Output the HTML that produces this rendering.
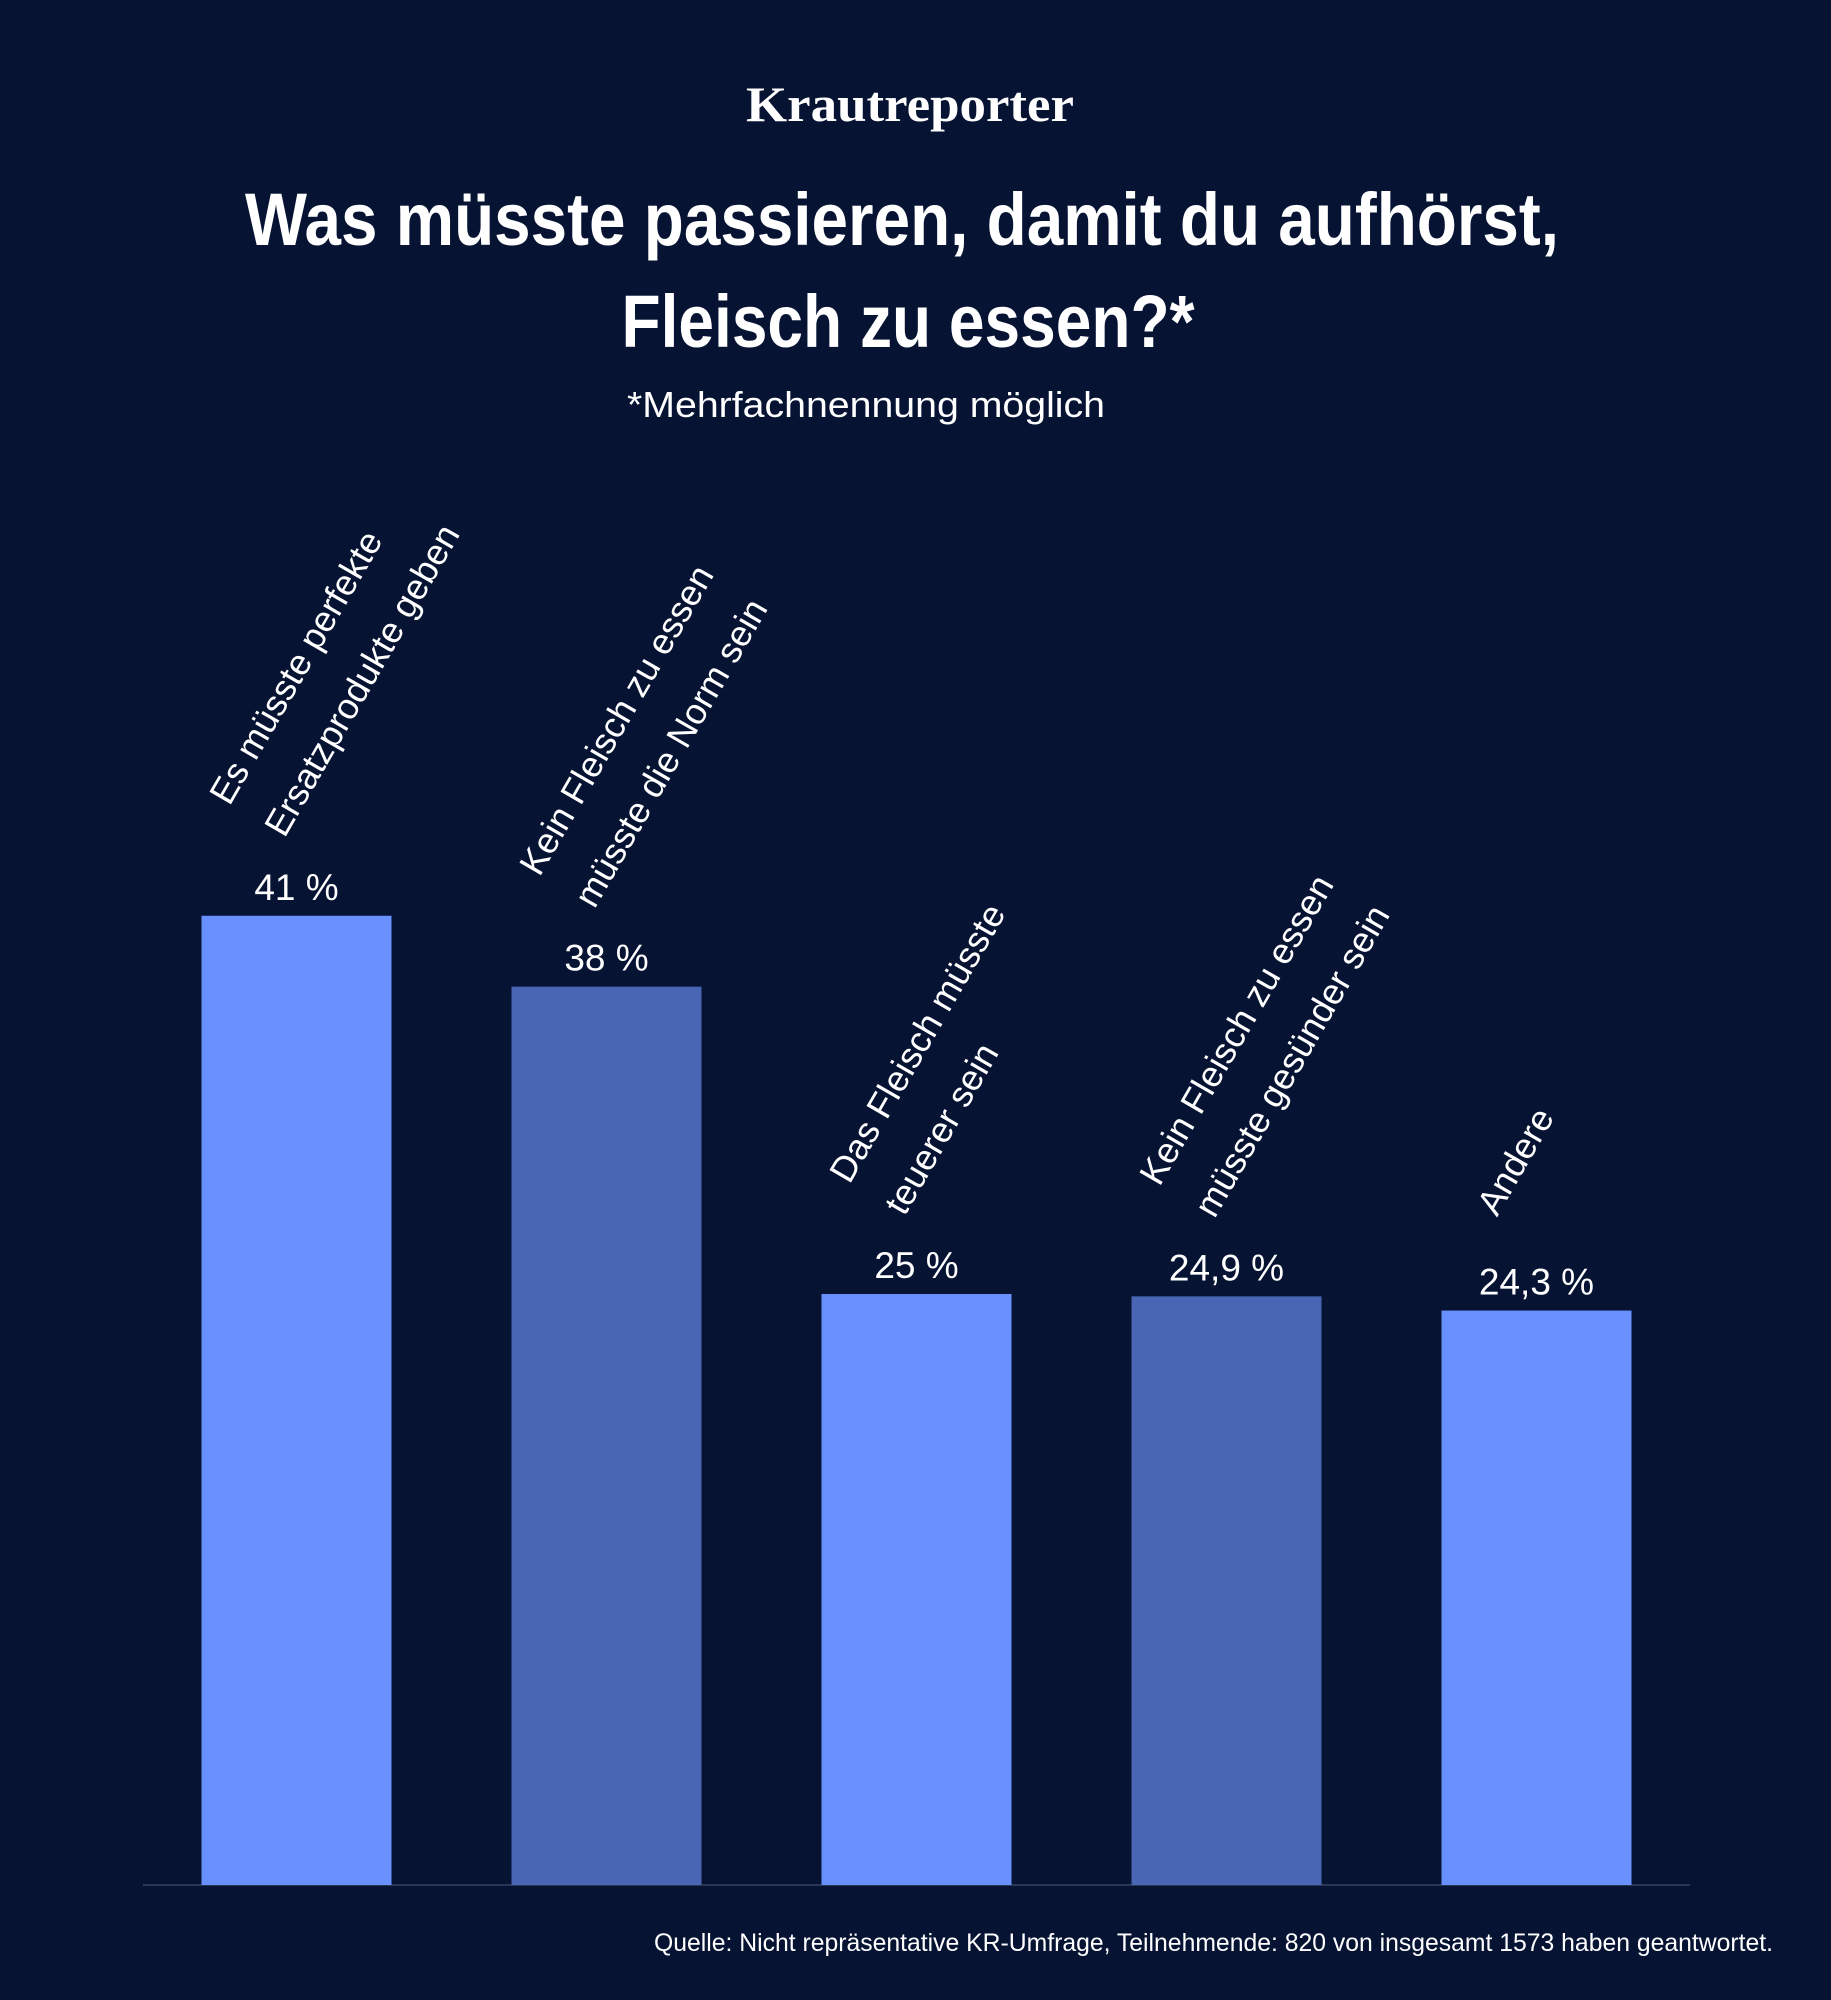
<!DOCTYPE html>
<html><head><meta charset="utf-8"><style>
html,body{margin:0;padding:0;background:#061333;}
svg{display:block;}
</style></head><body>
<svg width="1831" height="2000" viewBox="0 0 1831 2000" xmlns="http://www.w3.org/2000/svg">
<rect width="1831" height="2000" fill="#061333"/>
<text x="910" y="121" text-anchor="middle" font-family="Liberation Serif, serif" font-weight="bold" font-size="50" fill="#fff" textLength="328" lengthAdjust="spacingAndGlyphs">Krautreporter</text>
<text x="902" y="245" text-anchor="middle" font-family="Liberation Sans, sans-serif" font-weight="bold" font-size="74" fill="#fff" textLength="1314" lengthAdjust="spacingAndGlyphs">Was müsste passieren, damit du aufhörst,</text>
<text x="908" y="347" text-anchor="middle" font-family="Liberation Sans, sans-serif" font-weight="bold" font-size="74" fill="#fff" textLength="573" lengthAdjust="spacingAndGlyphs">Fleisch zu essen?*</text>
<text x="866" y="417" text-anchor="middle" font-family="Liberation Sans, sans-serif" font-size="36" fill="#fff" textLength="478" lengthAdjust="spacingAndGlyphs">*Mehrfachnennung möglich</text>
<line x1="143" y1="1885" x2="1690" y2="1885" stroke="#2a3656" stroke-width="2"/>
<g id="bars"></g>
<text x="1773" y="1951" text-anchor="end" font-family="Liberation Sans, sans-serif" font-size="25" fill="#fff" textLength="1119" lengthAdjust="spacingAndGlyphs">Quelle: Nicht repräsentative KR-Umfrage, Teilnehmende: 820 von insgesamt 1573 haben geantwortet.</text>
</svg>
<script>
const categories = [
  ["Es müsste perfekte", "Ersatzprodukte geben"],
  ["Kein Fleisch zu essen", "müsste die Norm sein"],
  ["Das Fleisch müsste", "teuerer sein"],
  ["Kein Fleisch zu essen", "müsste gesünder sein"],
  ["Andere"]
];
const values = [41, 38, 25, 24.9, 24.3];
const valueLabels = ["41 %", "38 %", "25 %", "24,9 %", "24,3 %"];
const barColors = ["#6890ff", "#4866b4", "#6890ff", "#4866b4", "#6890ff"];

const NS = "http://www.w3.org/2000/svg";
const baseY = 1885, pxPerUnit = 23.64, firstCenter = 296.5, step = 310, barW = 190;
const x = i => firstCenter + i * step;
const y = v => baseY - v * pxPerUnit;
const g = document.getElementById("bars");
values.forEach((v, i) => {
  const cx = x(i), top = y(v);
  const r = document.createElementNS(NS, "rect");
  r.setAttribute("x", cx - barW / 2);
  r.setAttribute("y", top);
  r.setAttribute("width", barW);
  r.setAttribute("height", baseY - top);
  r.setAttribute("fill", barColors[i]);
  
  
  g.appendChild(r);
  const t = document.createElementNS(NS, "text");
  t.setAttribute("x", cx);
  t.setAttribute("y", top - 16);
  t.setAttribute("text-anchor", "middle");
  t.setAttribute("font-family", "Liberation Sans, sans-serif");
  t.setAttribute("font-size", "37");
  t.setAttribute("fill", "#fff");
  t.textContent = valueLabels[i];
  
  
  g.appendChild(t);
  const lines = categories[i], n = lines.length;
  const Cx = cx - 39.5, Cy = top - 93;
  lines.forEach((ln, j) => {
    const k = j - (n - 1) / 2;
    const ox = Cx + k * 55, oy = Cy + k * 32;
    const lt = document.createElementNS(NS, "text");
    lt.setAttribute("x", ox);
    lt.setAttribute("y", oy);
    lt.setAttribute("transform", "rotate(-60 " + ox + " " + oy + ")");
    lt.setAttribute("font-family", "Liberation Sans, sans-serif");
    lt.setAttribute("font-size", "36");
    lt.setAttribute("fill", "#fff");
    lt.textContent = ln;
    
    
    g.appendChild(lt);
  });
});
</script>
</body></html>
